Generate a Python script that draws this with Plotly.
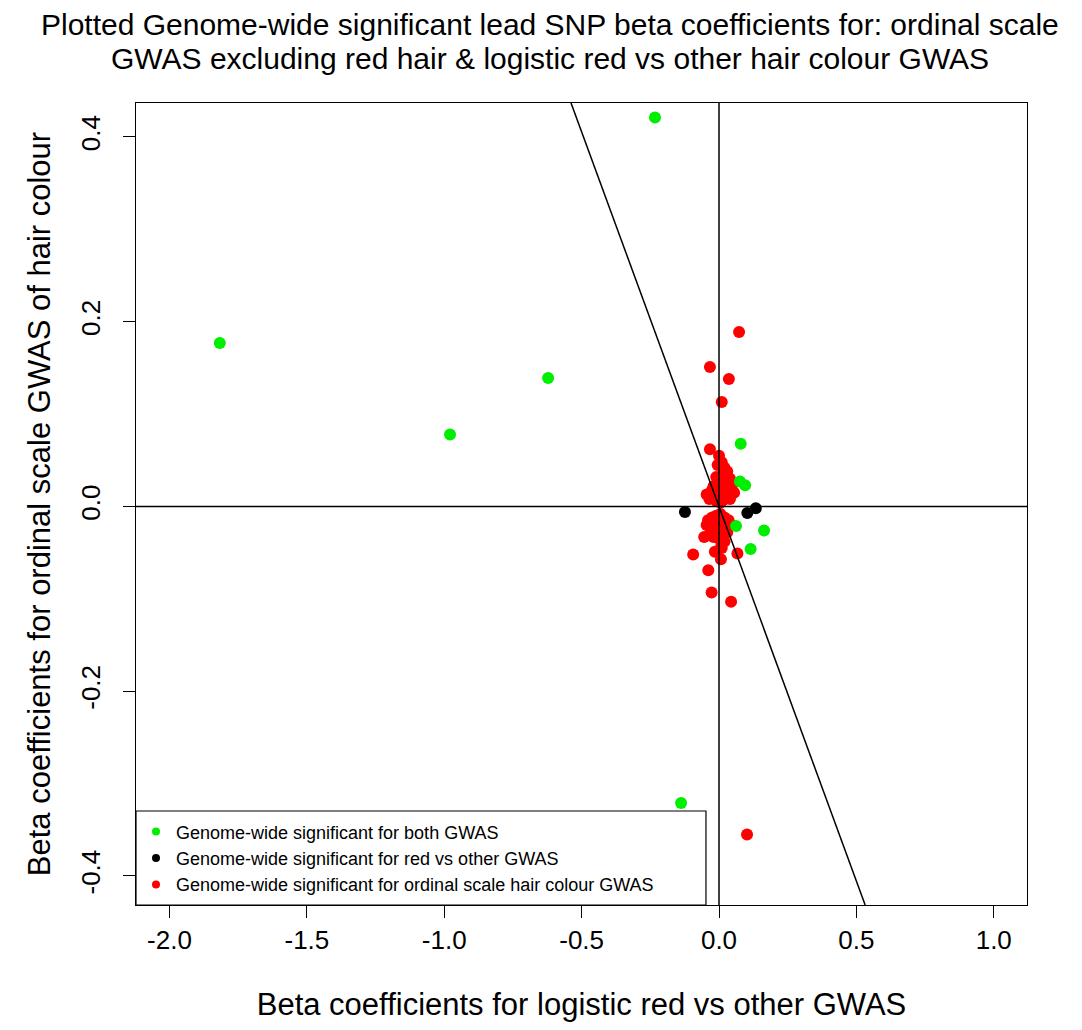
import plotly.graph_objects as go

# ---- data ----
both_x = [-0.233, -1.817, -0.622, -0.979, 0.079, 0.076, 0.095, 0.062, 0.164, 0.115, -0.138]
both_y = [0.421, 0.177, 0.139, 0.078, 0.068, 0.027, 0.023, -0.021, -0.026, -0.046, -0.321]

red_only_x = [-0.124, 0.103, 0.134]
red_only_y = [-0.006, -0.007, -0.002]

ordinal_x = [0.073, -0.033, 0.036, 0.010, -0.033, -0.094, -0.054, 0.007, -0.015, 0.067,
             0.007, -0.039, -0.027, 0.044, 0.102,
             0.000, 0.010, 0.020, -0.005, 0.015, 0.030, -0.010, 0.005, 0.025, 0.040,
             -0.020, 0.000, 0.020, 0.045, -0.030, -0.045, -0.015, 0.010, 0.035, 0.055,
             -0.035, -0.010, 0.015, 0.040, 0.005, 0.025, -0.025, 0.050,
             -0.040, -0.025, -0.010, 0.005, 0.020, 0.035, -0.030, -0.015, 0.000, 0.015,
             0.030, -0.020, 0.000, 0.020, -0.005, 0.045, -0.045, 0.010]
ordinal_y = [0.189, 0.151, 0.138, 0.113, 0.062, -0.052, -0.033, -0.044, -0.049, -0.051,
             -0.057, -0.069, -0.093, -0.103, -0.355,
             0.055, 0.048, 0.042, 0.045, 0.035, 0.038, 0.032, 0.030, 0.028, 0.030,
             0.022, 0.020, 0.020, 0.020, 0.015, 0.013, 0.012, 0.012, 0.012, 0.015,
             0.008, 0.006, 0.007, 0.008, 0.004, 0.025, 0.018, 0.025,
             -0.015, -0.012, -0.010, -0.008, -0.012, -0.015, -0.025, -0.020, -0.022, -0.025,
             -0.028, -0.033, -0.035, -0.038, -0.030, -0.020, -0.020, -0.045]

x_ticks = [-2.0, -1.5, -1.0, -0.5, 0.0, 0.5, 1.0]
x_tick_labels = ["-2.0", "-1.5", "-1.0", "-0.5", "0.0", "0.5", "1.0"]
y_ticks = [-0.4, -0.2, 0.0, 0.2, 0.4]
y_tick_labels = ["-0.4", "-0.2", "0.0", "0.2", "0.4"]
x_range = [-2.122, 1.121]
y_range = [-0.4314, 0.4368]
diag_slope = -0.811

title_lines = ["Plotted Genome-wide significant lead SNP beta coefficients for: ordinal scale",
               "GWAS excluding red hair & logistic red vs other hair colour GWAS"]
legend_labels = ["Genome-wide significant for both GWAS",
                 "Genome-wide significant for red vs other GWAS",
                 "Genome-wide significant for ordinal scale hair colour GWAS"]
colors = ["#00ee00", "#000000", "#ff0000"]

FONT = "Liberation Sans, Arial, sans-serif"

fig = go.Figure()
series = [(both_x, both_y), (red_only_x, red_only_y), (ordinal_x, ordinal_y)]
for idx in [2, 0, 1]:
    xs, ys = series[idx]
    fig.add_trace(go.Scatter(x=xs, y=ys, mode="markers",
                             marker=dict(color=colors[idx], size=12, line=dict(width=0)),
                             showlegend=False, hoverinfo="x+y"))
for lab, col in zip(legend_labels, colors):
    fig.add_trace(go.Scatter(x=[None], y=[None], mode="markers", name=lab,
                             marker=dict(color=col, size=8)))

# reference lines
fig.add_shape(type="line", xref="x", yref="y", x0=x_range[0], x1=x_range[1], y0=0, y1=0,
              line=dict(color="black", width=1.5))
fig.add_shape(type="line", xref="x", yref="y", x0=0, x1=0, y0=y_range[0], y1=y_range[1],
              line=dict(color="black", width=1.5))
fig.add_shape(type="line", xref="x", yref="y",
              x0=y_range[1] / diag_slope, y0=y_range[1],
              x1=y_range[0] / diag_slope, y1=y_range[0],
              line=dict(color="black", width=1.5))
# legend frame
fig.add_shape(type="rect", xref="paper", yref="paper", x0=0, x1=0.6397, y0=0, y1=0.1172,
              line=dict(color="black", width=1.2), fillcolor="white", layer="below")

# title as two lines
for txt, yy in zip(title_lines, [1.0985, 1.0561]):
    fig.add_annotation(text=txt, xref="paper", yref="paper", x=0.4646, y=yy,
                       xanchor="center", yanchor="middle", showarrow=False,
                       font=dict(size=30, family=FONT, color="black"))

fig.update_layout(
    width=1066, height=1014,
    paper_bgcolor="white", plot_bgcolor="white",
    margin=dict(l=128, r=47, t=95, b=117),
    font=dict(family=FONT, color="black"),
    legend=dict(x=0, y=0.002, xanchor="left", yanchor="bottom",
                borderwidth=0, bgcolor="rgba(0,0,0,0)",
                font=dict(size=18, family=FONT), itemwidth=30,
                tracegroupgap=0),
    showlegend=True,
)
fig.update_xaxes(range=x_range, tickvals=x_ticks, ticktext=x_tick_labels,
                 ticks="outside", ticklen=12, tickwidth=1, tickcolor="black",
                 showline=True, linecolor="black", linewidth=1, mirror=True,
                 showgrid=False, zeroline=False, ticklabelstandoff=0, automargin=False,
                 tickfont=dict(size=26, family=FONT),
                 title=dict(text="Beta coefficients for logistic red vs other GWAS",
                            font=dict(size=31, family=FONT), standoff=49))
fig.update_yaxes(range=y_range, tickvals=y_ticks, ticktext=y_tick_labels, tickangle=-90,
                 ticks="outside", ticklen=12, tickwidth=1, tickcolor="black",
                 showline=True, linecolor="black", linewidth=1, mirror=True,
                 showgrid=False, zeroline=False, ticklabelstandoff=13, automargin=False,
                 tickfont=dict(size=26, family=FONT),
                 title=dict(text="Beta coefficients for ordinal scale GWAS of hair colour",
                            font=dict(size=31, family=FONT), standoff=15))

fig.write_html("out.html")
